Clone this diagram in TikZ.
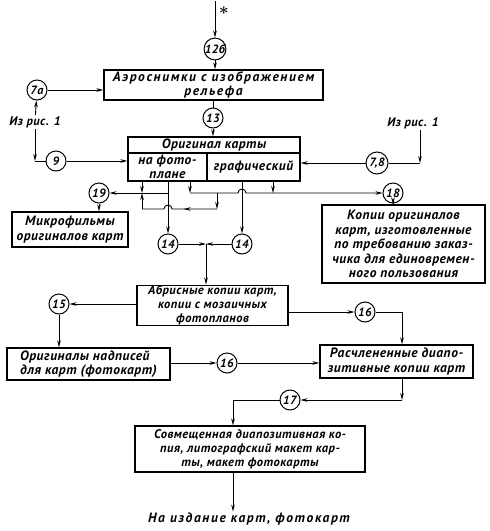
\documentclass[tikz,border=0pt]{standalone}
\usepackage{fontspec}
\newfontfamily\schemefont[LetterSpace=4]{PT Sans}
\newfontfamily\widefont[LetterSpace=12]{PT Sans}
\usetikzlibrary{arrows.meta,calc,decorations.markings}

\begin{document}
\begin{tikzpicture}[
                x=1pt, y=-1pt,
                every node/.style={
                        font=\schemefont\bfseries\itshape\fontsize{13.5}{14.5}\selectfont
                    },
                box/.style={draw, line width=1.3pt, align=center, inner sep=0.5pt},
                wide/.style={font=\widefont\bfseries\itshape\fontsize{13.5}{14.5}\selectfont},
                small/.style={font=\schemefont\bfseries\itshape\fontsize{12.5}{14}\selectfont},
                num/.style={draw, circle, line width=1pt, minimum size=20pt, inner sep=0pt,
                        font=\schemefont\bfseries\itshape\fontsize{12}{12}\selectfont},
                lbl/.style={inner sep=1pt},
                line/.style={line width=0.9pt},
                arr/.style={line, -{Stealth[length=7pt,width=3.6pt]}},
                midarr/.style={postaction={decorate},
                        decoration={markings,
                                mark=at position #1 with {\arrow{Stealth[length=7pt,width=3.6pt]}}}}
            ]
            \useasboundingbox (0,0) rectangle (490,531);

            % Boxes
            \node[box, wide, minimum width=219pt, minimum height=30pt] (aero) at (213.5,85) {Аэроснимки с изображением\\рельефа};
            \node[box, minimum width=172pt, minimum height=16pt] (orig) at (214,145) {Оригинал карты};
            \node[box, minimum width=79pt, minimum height=28pt] (origf) at (167.5,167) {на фото-\\плане};
            \node[box, minimum width=93pt, minimum height=28pt] (origg) at (253.5,167) {графический};
            \node[box, minimum width=116pt, minimum height=35pt] (micro) at (70,229.5) {Микрофильмы\\оригиналов карт};
            \node[box, minimum width=163pt, minimum height=78pt] (copies) at (403.5,244) {Копии оригиналов\\карт, изготовленные\\по требованию заказ-\\чика для единовремен-\\ного пользования};
            \node[box, small, minimum width=151pt, minimum height=37pt] (abris) at (212.5,305.5) {Абрисные копии карт,\\копии с мозаичных\\фотопланов};
            \node[box, minimum width=163pt, minimum height=32pt, align=left] (inscr) at (88.5,364) {Оригиналы надписей\\для карт (фотокарт)};
            \node[box, minimum width=153pt, minimum height=33pt] (split) at (396.5,361.5) {Расчлененные диапо-\\зитивные копии карт};
            \node[box, small, minimum width=230pt, minimum height=46pt] (combo) at (250,449) {Совмещенная диапозитивная ко-\\пия, литографский макет кар-\\ты, макет фотокарты};

            % Numbers
            \node[num] (n12b) at (215,49) {12б};
            \node[num] (n13) at (213,118) {13};
            \node[num] (n7a) at (37,90) {7а};
            \node[num] (n9) at (56,161) {9};
            \node[num, minimum size=22pt] (n78) at (377,163) {7,8};
            \node[num] (n19) at (99,193) {19};
            \node[num] (n18) at (393,193) {18};
            \node[num] (n14l) at (168,244) {14};
            \node[num] (n14r) at (242,244) {14};
            \node[num] (n15) at (59,304) {15};
            \node[num] (n16a) at (365,312) {16};
            \node[num] (n16b) at (227,363) {16};
            \node[num] (n17) at (290,400) {17};

            % Labels
            \node[lbl, font=\bfseries\fontsize{17}{17}\selectfont] (star) at (224,13) {*};
            \node[lbl, small] (fig1l) at (35,122) {Из рис. 1};
            \node[lbl, small] (fig1r) at (413,123) {Из рис. 1};
            \node[lbl, wide] (out) at (249,519) {На издание карт, фотокарт};

            % Corners
            \coordinate (topin) at (215,1);
            \coordinate (l1) at (35,161);
            \coordinate (r2) at (420,163);
            \coordinate (a1) at (142,181);
            \coordinate (a2) at (142,193);
            \coordinate (a3) at (142,209);
            \coordinate (c1) at (190,181);
            \coordinate (c2) at (190,193);
            \coordinate (d1) at (217,193);
            \coordinate (d2) at (217,209);
            \coordinate (f1) at (273,181);
            \coordinate (f2) at (273,193);
            \coordinate (g) at (168,193);
            \coordinate (j14) at (206,244);
            \coordinate (k16) at (402,312);
            \coordinate (k17) at (402,400);
            \coordinate (k6) at (233,400);

            % Top part
            \draw[arr] (topin) -- (n12b);
            \draw[arr] (n12b) -- (n12b |- aero.north);
            \draw[line] (n13 |- aero.south) -- (n13);
            \draw[arr] (n13) -- (n13 |- orig.north);
            \draw[arr] (fig1l) -- (n7a);
            \draw[arr] (n7a) -- (n7a -| aero.west);
            \draw[arr] (fig1l) -- (l1);
            \draw[line] (l1) -- (n9);
            \draw[arr] (n9) -- (n9 -| origf.west);
            \draw[arr] (fig1r.south -| r2) -- (r2);
            \draw[line] (r2) -- (n78);
            \draw[arr] (n78) -- (n78 -| origg.east);

            % Under the original
            \draw[arr] (a1) -- (a2);
            \draw[arr] (a3) -- (a2);
            \draw[arr] (g) -- (n19);
            \draw[arr] (n19) -- (n19 |- micro.north);
            \draw[arr] (c1) -- (c2);
            \draw[arr] (c2) -- ($(n14r |- c2)+(-4,0)$) arc[start angle=180, end angle=0, radius=4pt] -- (n18);
            \draw[arr] (n18) -- (n18 |- copies.north);
            \draw[arr] (d1) -- (d2);
            \draw[line, midarr=0.42] (d2) -- ($(n14l |- d2)+(4,0)$) arc[start angle=0, end angle=180, radius=4pt] -- (a3);
            \draw[arr] (f1) -- (f2);
            \draw[arr] (n14l |- origf.south) -- (n14l);
            \draw[arr] (n14r |- origg.south) -- (n14r);
            \draw[arr] (n14l) -- (j14);
            \draw[arr] (n14r) -- (j14);
            \draw[arr] (j14) -- (j14 |- abris.north);

            % Lower part
            \draw[arr] (abris.west |- n15) -- (n15);
            \draw[arr] (n15) -- (n15 |- inscr.north);
            \draw[arr] (abris.east |- n16a) -- (n16a);
            \draw[line] (n16a) -- (k16);
            \draw[arr] (k16) -- (k16 |- split.north);
            \draw[arr] (inscr.east |- n16b) -- (n16b);
            \draw[arr] (n16b) -- (n16b -| split.west);
            \draw[arr] (k17 |- split.south) -- (k17);
            \draw[arr] (k17) -- (n17);
            \draw[line] (n17) -- (k6);
            \draw[arr] (k6) -- (k6 |- combo.north);
            \draw[arr] (combo.south -| k6) -- (out.north -| k6);

        \end{tikzpicture}
\end{document}
